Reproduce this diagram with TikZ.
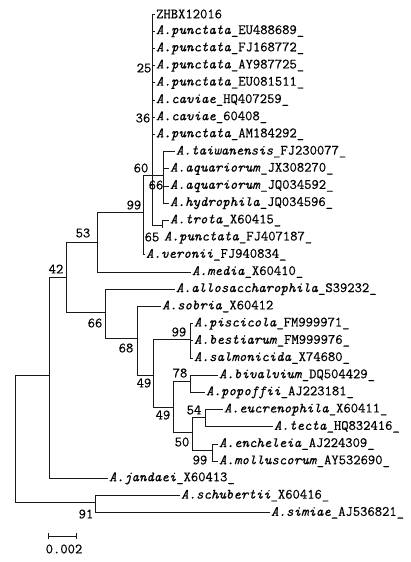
\documentclass[tikz,border=0pt]{standalone}
\usepackage{fontspec}
\newfontfamily\treefont[FakeBold=0.4]{Latin Modern Mono}
\newcommand{\taxon}[2]{\textit{A.#1}\_#2}
\usetikzlibrary{arrows.meta}

\begin{document}
\begin{tikzpicture}[x=1pt,y=-1pt,leaf/.style={anchor=west,inner sep=1pt,font=\treefont\fontsize{14.2}{16}\selectfont},boot/.style={inner sep=0pt,font=\treefont\fontsize{14.2}{16}\selectfont},branch/.style={line width=0.8pt,draw=black!90}]
\useasboundingbox (0,0) rectangle (410,562);
\coordinate (root) at (15,440);
\coordinate (ingroup) at (49,375);
\coordinate (b91) at (95,502);
\coordinate (b42) at (66,277);
\coordinate (b53) at (97,242);
\coordinate (b66lo) at (105,312);
\coordinate (b99top) at (143,212);
\coordinate (b60) at (152,175);
\coordinate (b66hi) at (163,175);
\coordinate (b65) at (162,225);
\coordinate (b68) at (137,338);
\coordinate (b49hi) at (153,375);
\coordinate (b99mid) at (190,339);
\coordinate (b49lo) at (173,407);
\coordinate (b78) at (190,381);
\coordinate (b50) at (192,432);
\coordinate (b54) at (205,417);
\coordinate (b99lo) at (212,450);
\node[leaf] (zhbx) at (155,14) {ZHBX12016};
\node[leaf] (eu488689) at (155,31.2) {\taxon{punctata}{EU488689\_}};
\node[leaf] (fj168772) at (155,48.4) {\taxon{punctata}{FJ168772\_}};
\node[leaf] (ay987725) at (155,65.6) {\taxon{punctata}{AY987725\_}};
\node[leaf] (eu081511) at (155,82.8) {\taxon{punctata}{EU081511\_}};
\node[leaf] (hq407259) at (155,100) {\taxon{caviae}{HQ407259\_}};
\node[leaf] (cav60408) at (155,117.2) {\taxon{caviae}{60408\_}};
\node[leaf] (am184292) at (155,134.4) {\taxon{punctata}{AM184292\_}};
\node[leaf] (fj230077) at (175,151.6) {\taxon{taiwanensis}{FJ230077\_}};
\node[leaf] (jx308270) at (169,168.8) {\taxon{aquariorum}{JX308270\_}};
\node[leaf] (jq034592) at (169,186) {\taxon{aquariorum}{JQ034592\_}};
\node[leaf] (jq034596) at (169,203.2) {\taxon{hydrophila}{JQ034596\_}};
\node[leaf] (x60415) at (169,220.4) {\taxon{trota}{X60415\_}};
\node[leaf] (fj407187) at (163,237.6) {\taxon{punctata}{FJ407187\_}};
\node[leaf] (fj940834) at (145,254.8) {\taxon{veronii}{FJ940834\_}};
\node[leaf] (x60410) at (191,272) {\taxon{media}{X60410\_}};
\node[leaf] (s39232) at (175,289.2) {\taxon{allosaccharophila}{S39232\_}};
\node[leaf] (x60412) at (161,306.4) {\taxon{sobria}{X60412}};
\node[leaf] (fm999971) at (193,323.6) {\taxon{piscicola}{FM999971\_}};
\node[leaf] (fm999976) at (193,340.8) {\taxon{bestiarum}{FM999976\_}};
\node[leaf] (x74680) at (193,358) {\taxon{salmonicida}{X74680\_}};
\node[leaf] (dq504429) at (218,375.2) {\taxon{bivalvium}{DQ504429\_}};
\node[leaf] (aj223181) at (205,392.4) {\taxon{popoffii}{AJ223181\_}};
\node[leaf] (x60411) at (223,409.6) {\taxon{eucrenophila}{X60411\_}};
\node[leaf] (hq832416) at (273,426.8) {\taxon{tecta}{HQ832416\_}};
\node[leaf] (aj224309) at (218,444) {\taxon{encheleia}{AJ224309\_}};
\node[leaf] (ay532690) at (218,461.2) {\taxon{molluscorum}{AY532690\_}};
\node[leaf] (x60413) at (108,478.4) {\taxon{jandaei}{X60413\_}};
\node[leaf] (x60416) at (180,495.6) {\taxon{schubertii}{X60416\_}};
\node[leaf] (aj536821) at (270,512.8) {\taxon{simiae}{AJ536821\_}};
\draw[branch] (root) |- (ingroup);
\draw[branch] (root) |- (b91);
\draw[branch] (ingroup) |- (b42);
\draw[branch] (ingroup) |- (x60413.west);
\draw[branch] (b42) |- (b53);
\draw[branch] (b42) |- (b66lo);
\draw[branch] (b53) |- (b99top);
\draw[branch] (b53) |- (x60410.west);
\draw[branch] (b99top) |- (b60);
\draw[branch] (b99top) |- (fj940834.west);
\draw[branch] (b60) |- (zhbx.west);
\draw[branch] (b60) |- (eu488689.west);
\draw[branch] (b60) |- (fj168772.west);
\draw[branch] (b60) |- (ay987725.west);
\draw[branch] (b60) |- (eu081511.west);
\draw[branch] (b60) |- (hq407259.west);
\draw[branch] (b60) |- (cav60408.west);
\draw[branch] (b60) |- (am184292.west);
\draw[branch] (b60) -- (b66hi);
\draw[branch] (b60) |- (b65);
\draw[branch] (b66hi) |- (fj230077.west);
\draw[branch] (b66hi) |- (jx308270.west);
\draw[branch] (b66hi) |- (jq034592.west);
\draw[branch] (b66hi) |- (jq034596.west);
\draw[branch] (b65) |- (x60415.west);
\draw[branch] (b65) -- ++(0,3);
\draw[branch] (b66lo) |- (s39232.west);
\draw[branch] (b66lo) |- (b68);
\draw[branch] (b68) |- (x60412.west);
\draw[branch] (b68) |- (b49hi);
\draw[branch] (b49hi) |- (b99mid);
\draw[branch] (b49hi) |- (b49lo);
\draw[branch] (b99mid) |- (fm999971.west);
\draw[branch] (b99mid) |- (fm999976.west);
\draw[branch] (b99mid) |- (x74680.west);
\draw[branch] (b49lo) |- (b78);
\draw[branch] (b49lo) |- (b50);
\draw[branch] (b78) |- (dq504429.west);
\draw[branch] (b78) |- (aj223181.west);
\draw[branch] (b50) |- (b54);
\draw[branch] (b50) |- (b99lo);
\draw[branch] (b54) |- (x60411.west);
\draw[branch] (b54) |- (hq832416.west);
\draw[branch] (b99lo) |- (aj224309.west);
\draw[branch] (b99lo) |- (ay532690.west);
\draw[branch] (b91) |- (x60416.west);
\draw[branch] (b91) |- (aj536821.west);
% bootstrap values
\node[boot] (bs25) at (144,68) {25};
\node[boot] (bs36) at (143,118) {36};
\node[boot] (bs60) at (141,168) {60};
\node[boot] (bs66hi) at (156,185) {66};
\node[boot] (bs99top) at (134,205) {99};
\node[boot] (bs65) at (152,237) {65};
\node[boot] (bs53) at (83,233) {53};
\node[boot] (bs42) at (56,269) {42};
\node[boot] (bs66lo) at (95,323) {66};
\node[boot] (bs68) at (126,348) {68};
\node[boot] (bs99mid) at (179,332) {99};
\node[boot] (bs49hi) at (144,383) {49};
\node[boot] (bs78) at (180,373) {78};
\node[boot] (bs49lo) at (163,415) {49};
\node[boot] (bs54) at (194,410) {54};
\node[boot] (bs50) at (182,442) {50};
\node[boot] (bs99lo) at (200,460) {99};
\node[boot] (bs91) at (86,514) {91};
% scale bar
\coordinate (sbl) at (48,536);
\coordinate (sbr) at (77,536);
\draw[branch,{Bar[width=6pt]}-{Bar[width=6pt]}] (sbl) -- (sbr);
\node[boot] (scale) at (64,549) {0.002};
\end{tikzpicture}
\end{document}
